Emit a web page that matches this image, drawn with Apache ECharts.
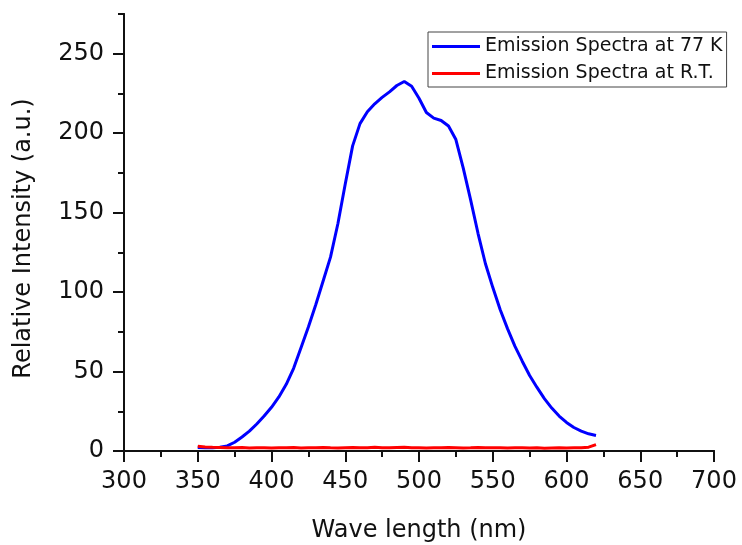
<!DOCTYPE html>
<html>
<head>
<meta charset="utf-8">
<script src="https://cdn.jsdelivr.net/npm/echarts@6/dist/echarts.min.js"></script>
<style>
html,body{margin:0;padding:0;background:#fff;}
#chart{width:742px;height:545px;}
</style>
</head>
<body>
<div id="chart"></div>
<script>
// wavelengths (nm)
const wavelengths = [350,355,360,365,370,375,380,385,390,395,400,405,410,415,420,425,430,435,440,445,450,455,460,465,470,475,480,485,490,495,500,505,510,515,520,525,530,535,540,545,550,555,560,565,570,575,580,585,590,595,600,605,610,615,620];
// Emission Spectra at 77 K
const emission77K = [2.2,2.0,2.0,2.3,3.2,5.5,8.8,12.5,17,22,27.5,34,42,52,65,78,92,107,122,143,168,192,206,213.5,218.5,222.5,226,230,232.5,229.5,222,213,209.5,208,204.5,196,178,158,137,118,103,89,77,66,56.5,47.5,40,33,27,22,18,14.8,12.5,10.8,9.8];
// Emission Spectra at R.T.
const emissionRT = [3.0,2.5,2.3,2.2,2.1,2.0,2.2,1.9,2.1,2.0,1.9,2.1,2.0,2.2,1.9,2.0,2.1,2.2,2.0,1.9,2.1,2.2,2.0,2.1,2.3,2.1,2.0,2.2,2.4,2.1,2.0,1.9,2.1,2.0,2.2,2.1,1.9,2.0,2.2,2.1,2.0,2.1,1.9,2.0,2.1,1.9,2.0,1.8,1.9,2.0,1.9,2.0,2.1,2.4,4.0];

const xMajor = [300,350,400,450,500,550,600,650,700];
const xMinor = [325,375,425,475,525,575,625,675];
const yMajor = [0,50,100,150,200,250];
const yMinor = [25,75,125,175,225,275];

const FONT = 'DejaVu Sans';
const AX = '#111';

const chart = echarts.init(document.getElementById('chart'), null, {renderer:'canvas'});

function xAxisBase(extra){
  return Object.assign({
    type:'value', min:300, max:700, interval:50, position:'bottom', gridIndex:0,
    splitLine:{show:false},
    axisLine:{show:true, onZero:false, lineStyle:{color:AX, width:2}}
  }, extra);
}
function yAxisBase(extra){
  return Object.assign({
    type:'value', min:0, max:275, interval:25, position:'left', gridIndex:0,
    splitLine:{show:false},
    axisLine:{show:true, onZero:false, lineStyle:{color:AX, width:2}}
  }, extra);
}

chart.setOption({
  animation:false,
  backgroundColor:'#fff',
  grid:{left:124, right:28, top:14, bottom:94, containLabel:false, outerBoundsMode:'none'},
  legend:{
    orient:'vertical', left:428, top:32,
    padding:[5,4,4,4], itemGap:8, itemWidth:48, itemHeight:3, icon:'rect',
    borderColor:'#444', borderWidth:1, backgroundColor:'#fff',
    textStyle:{fontFamily:FONT, fontSize:19, color:AX},
    data:['Emission Spectra at 77 K','Emission Spectra at R.T.']
  },
  xAxis:[
    xAxisBase({
      name:'Wave length (nm)', nameLocation:'middle', nameGap:68,
      nameTextStyle:{fontFamily:FONT, fontSize:24, color:AX},
      axisTick:{show:true, inside:false, length:11, lineStyle:{color:AX, width:2}, customValues:xMajor},
      axisLabel:{show:true, margin:19, fontFamily:FONT, fontSize:24, color:AX, customValues:xMajor}
    }),
    xAxisBase({
      axisTick:{show:true, inside:false, length:6, lineStyle:{color:AX, width:2}, customValues:xMinor},
      axisLabel:{show:false}
    })
  ],
  yAxis:[
    yAxisBase({
      name:'Relative Intensity (a.u.)', nameLocation:'middle', nameGap:88, nameRotate:90,
      nameTextStyle:{fontFamily:FONT, fontSize:24, color:AX, padding:[0,12,0,0]},
      axisTick:{show:true, inside:false, length:11, lineStyle:{color:AX, width:2}, customValues:yMajor},
      axisLabel:{show:true, margin:20, fontFamily:FONT, fontSize:24, color:AX, customValues:yMajor}
    }),
    yAxisBase({
      axisTick:{show:true, inside:false, length:6, lineStyle:{color:AX, width:2}, customValues:yMinor},
      axisLabel:{show:false}
    })
  ],
  series:[
    {
      name:'Emission Spectra at 77 K', type:'line', xAxisIndex:0, yAxisIndex:0,
      symbol:'none', smooth:false,
      lineStyle:{color:'#0000ff', width:3}, itemStyle:{color:'#0000ff'},
      data:wavelengths.map((w,i)=>[w, emission77K[i]]), z:3
    },
    {
      name:'Emission Spectra at R.T.', type:'line', xAxisIndex:0, yAxisIndex:0,
      symbol:'none', smooth:false,
      lineStyle:{color:'#ff0000', width:3}, itemStyle:{color:'#ff0000'},
      data:wavelengths.map((w,i)=>[w, emissionRT[i]]), z:4
    }
  ]
});
</script>
</body>
</html>
